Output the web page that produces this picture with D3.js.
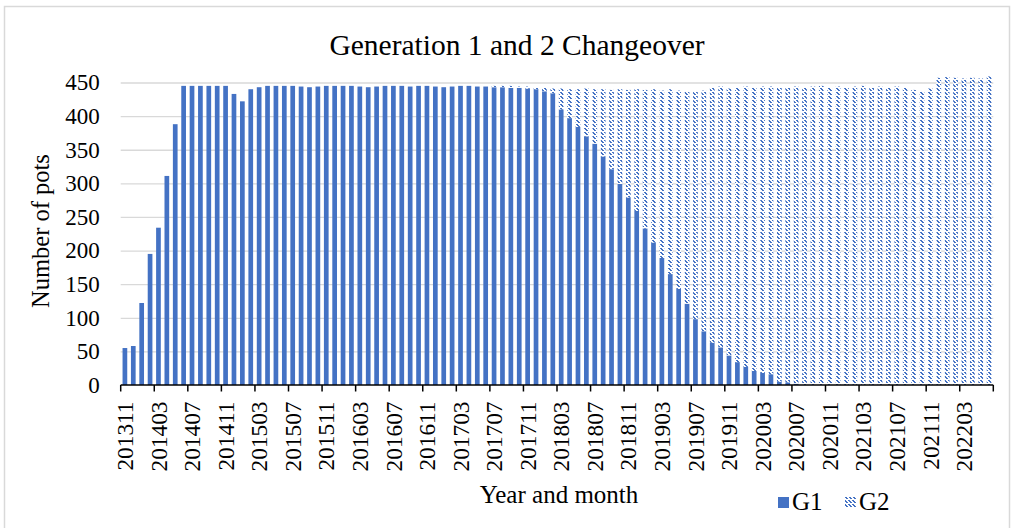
<!DOCTYPE html>
<html><head><meta charset="utf-8">
<script src="https://cdn.jsdelivr.net/npm/d3@7"></script>
<style>
body{margin:0;background:#fff}
svg{display:block;font-family:"Liberation Serif","Times New Roman",serif}
</style>
</head><body>
<svg id="chart" width="1014" height="528"></svg>
<script>
const months = [
"201311","201312",
"201401","201402","201403","201404","201405","201406","201407","201408","201409","201410","201411","201412",
"201501","201502","201503","201504","201505","201506","201507","201508","201509","201510","201511","201512",
"201601","201602","201603","201604","201605","201606","201607","201608","201609","201610","201611","201612",
"201701","201702","201703","201704","201705","201706","201707","201708","201709","201710","201711","201712",
"201801","201802","201803","201804","201805","201806","201807","201808","201809","201810","201811","201812",
"201901","201902","201903","201904","201905","201906","201907","201908","201909","201910","201911","201912",
"202001","202002","202003","202004","202005","202006","202007","202008","202009","202010","202011","202012",
"202101","202102","202103","202104","202105","202106","202107","202108","202109","202110","202111","202112",
"202201","202202","202203","202204","202205","202206"];

const g1 = [55,58,122,195,234,311,388,445,445,445,445,445,445,433,422,440,443,445,445,445,
445,444,443,444,445,445,445,445,444,443,444,445,445,445,444,445,445,444,443,444,
445,445,444,444,443,443,442,442,441,440,437,434,410,397,384,370,359,340,321,299,
279,259,233,212,189,165,143,121,98,80,63,56,44,34,27,21,18,16,5,4,
2,0,0,0,0,0,0,0,0,0,0,0,0,0,0,0,0,0,0,0,
0,0,0,0];

const g2 = [0,0,0,0,0,0,0,0,0,0,0,0,0,0,0,0,0,0,0,0,
0,0,0,0,0,0,0,0,0,0,0,0,0,0,0,0,0,0,0,0,
0,0,0,0,2,2,3,2,3,3,5,7,31,43,56,71,81,100,118,141,
160,181,206,228,249,275,295,316,339,358,380,388,397,409,417,421,426,428,437,439,
442,442,444,445,443,444,442,444,445,443,444,443,444,442,439,437,441,457,458,457,
456,457,456,459];

const yTicks = [0,50,100,150,200,250,300,350,400,450];
const seriesNames = ["G1","G2"];

const svg = d3.select("#chart");
const blue = "#4472C4";

// hatch pattern (dashed downward diagonal)
const defs = svg.append("defs");
const pat = defs.append("pattern").attr("id","hatch").attr("patternUnits","userSpaceOnUse")
  .attr("width",8).attr("height",8);
pat.append("rect").attr("width",8).attr("height",8).attr("fill","#fff");
const dots = [[0,0],[1,1],[2,2],[4,0],[5,1],[6,2],[4,4],[5,5],[6,6],[0,4],[1,5],[2,6]];
pat.selectAll("rect.d").data(dots).join("rect").attr("class","d")
  .attr("x",d=>d[0]).attr("y",d=>d[1]).attr("width",2).attr("height",1)
  .attr("shape-rendering","crispEdges").attr("fill",blue);

// frame
svg.append("rect").attr("x",4.5).attr("y",6.5).attr("width",1005).attr("height",530)
  .attr("fill","none").attr("stroke","#d9d9d9").attr("stroke-width",1.5);

const x = d3.scaleBand().domain(months).range([120.7,993.3]).paddingInner(0.44).paddingOuter(0.22);
const y = d3.scaleLinear().domain([0,460]).range([385,385-460*0.6722]);

// gridlines
svg.append("g").attr("transform","translate(120.7,0)")
  .call(d3.axisLeft(y).tickValues(yTicks.slice(1)).tickSize(-872.6).tickFormat(""))
  .call(g=>g.select(".domain").remove())
  .call(g=>g.selectAll("line").attr("stroke","#d9d9d9").attr("stroke-width",1.3));

// data
const table = months.map((m,i)=>({month:m, G1:g1[i], G2:g2[i]}));
const stacked = d3.stack().keys(seriesNames)(table);
const fills = {G1: blue, G2: "url(#hatch)"};
svg.append("g").selectAll("g").data(stacked).join("g")
  .attr("fill", d=>fills[d.key])
  .selectAll("rect").data(d=>d).join("rect")
  .attr("x", d=>x(d.data.month))
  .attr("width", x.bandwidth())
  .attr("y", d=>y(d[1]))
  .attr("height", d=>y(d[0])-y(d[1]));

// y axis labels
svg.append("g").attr("transform","translate(120.7,0)")
  .call(d3.axisLeft(y).tickValues(yTicks).tickSize(0).tickPadding(21))
  .call(g=>g.select(".domain").remove())
  .call(g=>g.selectAll("text").attr("font-size",23).attr("font-family","Liberation Serif").attr("fill","#000"));

// x axis line + boundary ticks
const half = x.step()*x.paddingInner()/2;
const tickMonths = months.filter((m,i)=>i%4===0);
svg.append("line").attr("x1",120.7).attr("x2",993.3).attr("y1",385).attr("y2",385)
  .attr("stroke","#000").attr("stroke-width",1.5);
const bounds = tickMonths.map(m=>x(m)-half).concat([x(months[months.length-1])+x.bandwidth()+half]);
svg.append("g").selectAll("line").data(bounds).join("line")
  .attr("x1",d=>d).attr("x2",d=>d).attr("y1",385).attr("y2",391.5)
  .attr("stroke","#000").attr("stroke-width",1.5);

// x tick labels
svg.append("g").attr("transform","translate(0,385)")
  .call(d3.axisBottom(x).tickValues(tickMonths).tickSize(0).tickPadding(0))
  .call(g=>g.select(".domain").remove())
  .call(g=>g.selectAll("text").attr("font-size",23.3).attr("font-family","Liberation Serif").attr("fill","#000")
     .attr("transform","rotate(-90)").attr("text-anchor","end").attr("x",-16.5).attr("y",0).attr("dy","0.35em"));

// titles
svg.append("text").attr("x",517).attr("y",55).attr("text-anchor","middle")
  .attr("font-size",29.5).text("Generation 1 and 2 Changeover");
svg.append("text").attr("x",559).attr("y",503).attr("text-anchor","middle")
  .attr("font-size",25).text("Year and month");
svg.append("text").attr("transform","translate(49,231) rotate(-90)").attr("text-anchor","middle")
  .attr("font-size",24.5).text("Number of pots");

// legend
const leg = svg.append("g");
const legItems = [{k:"G1",x:778},{k:"G2",x:845}];
legItems.forEach(it=>{
  leg.append("rect").attr("x",it.x).attr("y",497).attr("width",11).attr("height",11).attr("fill",fills[it.k]);
  leg.append("text").attr("x",it.x+14).attr("y",510).attr("font-size",25).text(it.k);
});
</script>
</body></html>
